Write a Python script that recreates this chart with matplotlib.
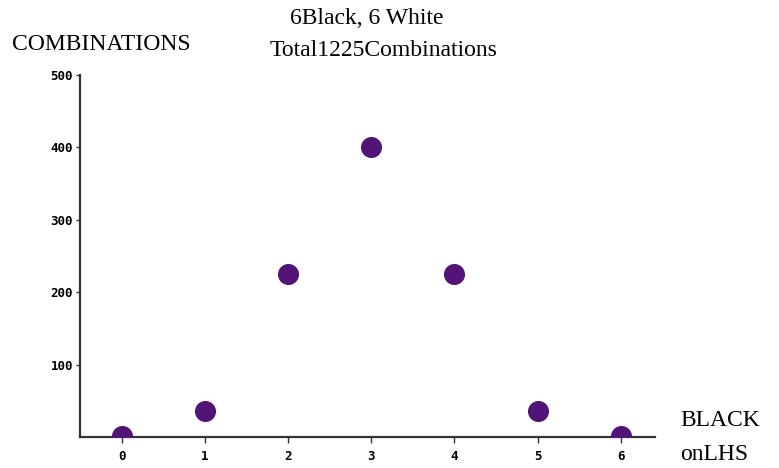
import matplotlib
matplotlib.use("Agg")
import matplotlib.pyplot as plt

black_on_lhs = [0, 1, 2, 3, 4, 5, 6]
combinations = [1, 36, 225, 400, 225, 36, 1]
y_ticks = [100, 200, 300, 400, 500]

fig = plt.figure(figsize=(7.79, 4.68), dpi=100)
ax = fig.add_axes([0.1027, 0.066, 0.738, 0.774])

ax.scatter(black_on_lhs, combinations, s=200, color="#521477", zorder=3, clip_on=True)

ax.set_xlim(-0.5, 6.41)
ax.set_ylim(0, 500)

for side in ["top", "right"]:
    ax.spines[side].set_visible(False)
for side in ["left", "bottom"]:
    ax.spines[side].set_linewidth(1.6)
    ax.spines[side].set_color("#333333")

ax.set_xticks(black_on_lhs)
ax.set_yticks(y_ticks)
tick_font = dict(family="DejaVu Sans Mono", size=9, weight="bold")
ax.set_xticklabels([str(v) for v in black_on_lhs], **tick_font)
ax.set_yticklabels([str(v) for v in y_ticks], **tick_font)
ax.tick_params(axis="x", direction="out", length=4, width=1, pad=5, color="#333333")
ax.tick_params(axis="y", direction="out", length=3, width=1, pad=2, color="#333333")

serif = "Liberation Serif"
fs = 17
fig.text(12 / 779, 1 - 45 / 468, "COMBINATIONS", family=serif, fontsize=fs,
         ha="left", va="center")
fig.text(367 / 779, 1 - 19 / 468, "6Black, 6 White", family=serif, fontsize=fs,
         ha="center", va="center")
fig.text(384 / 779, 1 - 50 / 468, "Total1225Combinations", family=serif, fontsize=fs,
         ha="center", va="center")
fig.text(680 / 779, 1 - 421 / 468, "BLACK", family=serif, fontsize=fs,
         ha="left", va="center")
fig.text(680 / 779, 1 - 455 / 468, "onLHS", family=serif, fontsize=fs,
         ha="left", va="center")

fig.savefig("out.png", dpi=100)
